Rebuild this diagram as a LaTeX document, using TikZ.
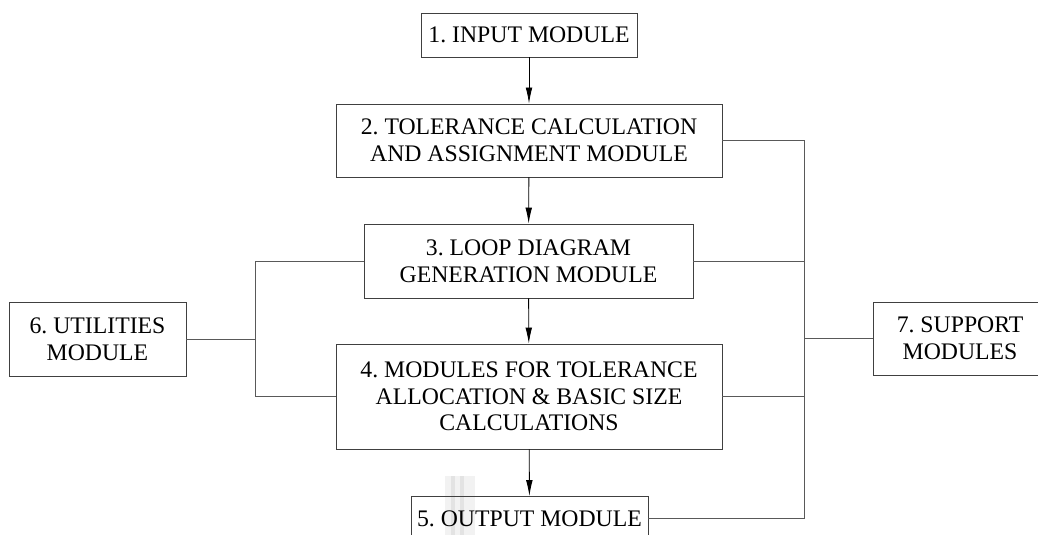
\documentclass[tikz,border=0pt]{standalone}
\usepackage{fontspec}
\setmainfont{Liberation Serif}
\usetikzlibrary{arrows.meta}
\frenchspacing
\begin{document}
\begin{tikzpicture}[x=0.75pt,y=-0.75pt,
  modbox/.style={draw=black!75, line width=0.65pt, inner sep=0pt, align=center,
    font=\fontsize{17.8}{20}\selectfont},
  link/.style={draw=black!65, line width=0.65pt},
  flow/.style={draw=black, line width=0.65pt, -{Latex[length=12pt,width=5pt]}}]
\clip (0,0) rectangle (1038,535);
\fill[white] (0,0) rectangle (1038,535);
% faint vertical streaks above the output module
\fill[black!5] (445,476) rectangle (475,535);
\fill[black!11] (451,476) rectangle (455,535);
\fill[black!11] (460,476) rectangle (464,535);
% modules
\node[modbox, minimum width=216*0.75pt, minimum height=44*0.75pt] (b1) at (529,35) {1. INPUT MODULE};
\node[modbox, minimum width=386*0.75pt, minimum height=73*0.75pt] (b2) at (529,140.5) {2. TOLERANCE CALCULATION\\AND ASSIGNMENT MODULE};
\node[modbox, minimum width=329*0.75pt, minimum height=74*0.75pt] (b3) at (528.5,261) {3. LOOP DIAGRAM\\GENERATION MODULE};
\node[modbox, minimum width=386*0.75pt, minimum height=105*0.75pt] (b4) at (529,396.5) {4. MODULES FOR TOLERANCE\\ALLOCATION \& BASIC SIZE\\CALCULATIONS};
\node[modbox, minimum width=237*0.75pt, minimum height=44*0.75pt] (b5) at (529.5,518.5) {5. OUTPUT MODULE};
\node[modbox, minimum width=177*0.75pt, minimum height=74*0.75pt] (b6) at (97.5,339) {6. UTILITIES\\MODULE};
\node[modbox, minimum width=174*0.75pt, minimum height=73*0.75pt] (b7) at (960,338.5) {7. SUPPORT\\MODULES};
% main flow
\draw[flow] (b1) -- (b2);
\draw[flow] (b2) -- (b3);
\draw[flow] (b3) -- (b4);
\draw[flow] (b4) -- (b5);
% bus lines
\coordinate (lx) at (255,0);
\coordinate (rx) at (804,0);
\draw[link] (b3.west) -- (b3.west -| lx) |- (b4.west);
\draw[link] (b6.east) -- (b6.east -| lx);
\draw[link] (b2.east) -- (b2.east -| rx) |- (b5.east);
\draw[link] (b3.east) -- (b3.east -| rx);
\draw[link] (b4.east) -- (b4.east -| rx);
\draw[link] (b7.west) -- (b7.west -| rx);
\end{tikzpicture}
\end{document}
